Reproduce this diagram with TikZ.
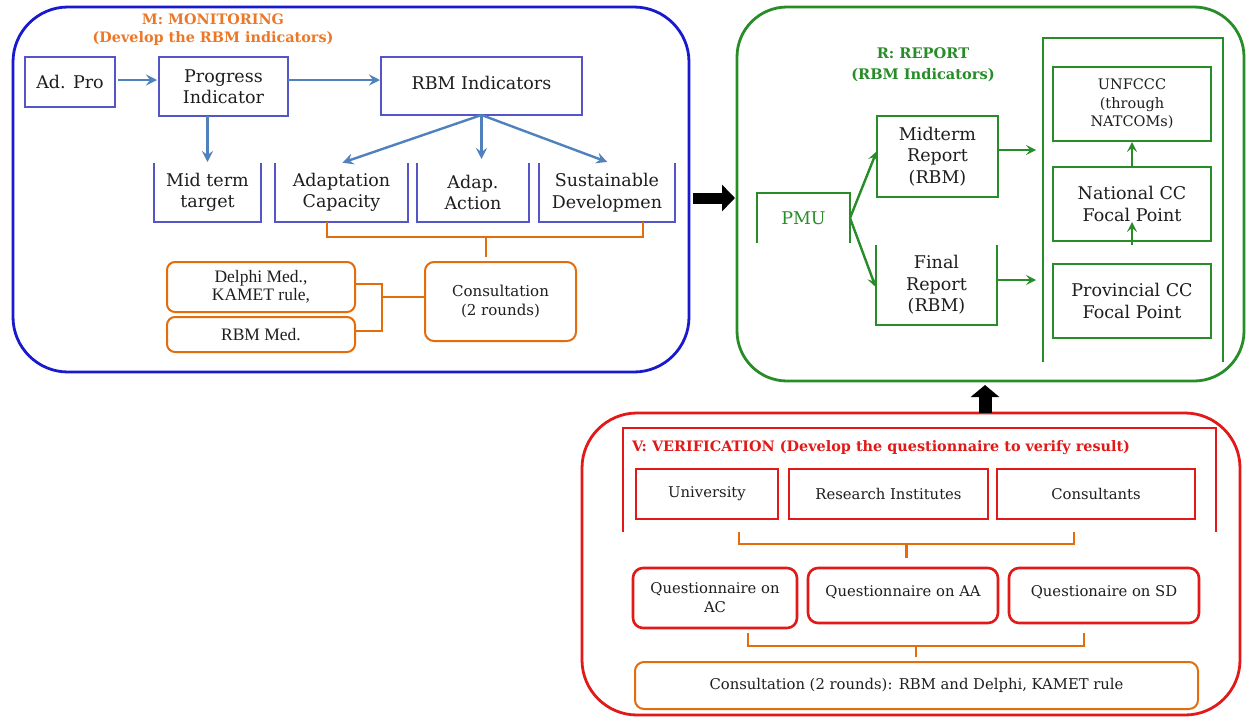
\documentclass[tikz,border=0pt]{standalone}
\usepackage{fontspec}
\setmainfont{DejaVu Serif}
\newfontfamily\timesfont{Liberation Serif}
\usetikzlibrary{arrows.meta}
\definecolor{frameblue}{RGB}{25,25,205}
\definecolor{boxblue}{RGB}{85,85,200}
\definecolor{arrowblue}{RGB}{79,129,189}
\definecolor{orng}{RGB}{228,108,10}
\definecolor{ttlorange}{RGB}{235,120,40}
\definecolor{grn}{RGB}{40,140,40}
\definecolor{frred}{RGB}{225,25,25}
\definecolor{txt}{RGB}{30,30,30}
\begin{document}
\begin{tikzpicture}[x=1pt,y=-1pt,
  every node/.style={inner sep=0pt, outer sep=0pt, text=txt},
  mainfont/.style={font=\fontsize{17.5}{21.5}\selectfont},
  redfont/.style={font=\fontsize{14.8}{19}\selectfont},
  bluebox/.style={draw=boxblue, line width=1.6pt, align=center, mainfont},
  plainbox/.style={align=center, mainfont},
  boxline/.style={draw=boxblue, line width=1.6pt},
  greenline/.style={draw=grn, line width=1.6pt},
  greenbox/.style={draw=grn, line width=1.6pt, align=center, mainfont},
  redline/.style={draw=frred, line width=1.5pt},
  redbox/.style={draw=frred, line width=1.5pt, align=center, redfont},
  qbox/.style={draw=frred, line width=2.6pt, rounded corners=10pt, align=center, redfont},
  orngbox/.style={draw=orng, line width=2pt, rounded corners=9pt, align=center},
  orngline/.style={draw=orng, line width=2.2pt},
  bluearrow/.style={draw=arrowblue, line width=2.4pt, -{Stealth[length=11pt,width=11pt,inset=4pt]}},
  greenarrow/.style={draw=grn, line width=2.4pt, -{Stealth[length=10pt,width=10pt,inset=4pt]}},
  blackarrow/.style={draw=black, line width=11pt, -{Triangle[length=13pt,width=26pt]}},
  frame/.style={line width=2.8pt, rounded corners=55pt},
  ttl/.style={font=\bfseries\fontsize{14.4}{18}\selectfont, align=center}
]
\useasboundingbox (0,0) rectangle (1246,718);
\fill[white] (0,0) rectangle (1246,718);

% ---------------- Monitoring ----------------
\node[frame, draw=frameblue, minimum width=676pt, minimum height=365pt] (mon) at (351,189.5) {};
\node[ttl, text=ttlorange] (mtitle) at (213,30) {M: MONITORING\\(Develop the RBM indicators)};

\node[bluebox, minimum width=90pt, minimum height=50pt] (adpro) at (70,82) {Ad. Pro};
\node[bluebox, minimum width=129pt, minimum height=59pt] (prog) at (223.5,86.5) {Progress\\Indicator};
\node[bluebox, minimum width=201pt, minimum height=58pt] (rbm) at (481.5,86) {\raisebox{6pt}{RBM Indicators}};

\node[plainbox, minimum width=107pt, minimum height=59pt] (mid) at (207.5,192.5) {Mid term\\target};
\node[plainbox, minimum width=133pt, minimum height=59pt] (adc) at (341.5,192.5) {Adaptation\\Capacity};
\node[plainbox, minimum width=112pt, minimum height=59pt] (ada) at (473,192.5) {Adap.\\Action};
\node[plainbox, minimum width=136pt, minimum height=59pt] (sus) at (607,192.5) {Sustainable\\Developmen};
\foreach \n in {mid,adc,ada,sus}
  \draw[boxline] (\n.north west) -- (\n.south west) -- (\n.south east) -- (\n.north east);

\draw[bluearrow, shorten <=3pt, shorten >=2pt] ([yshift=2pt]adpro.east) -- ([yshift=2pt]adpro.east -| prog.west);
\draw[bluearrow, shorten >=1pt] ([yshift=6.5pt]prog.east) -- ([yshift=6.5pt]prog.east -| rbm.west);
\draw[bluearrow, shorten >=1pt] (prog.south -| mid.north) -- (mid.north);
\draw[bluearrow, shorten >=1pt] (rbm.south) -- (adc.north);
\draw[bluearrow, shorten >=4pt] (rbm.south) -- (rbm.south |- ada.north);
\draw[bluearrow, shorten >=3pt] (rbm.south) -- ([xshift=3pt]sus.north);

\node[orngbox, minimum width=151pt, minimum height=79pt, font=\fontsize{15}{19}\selectfont] (cons) at (500.5,301.5) {Consultation\\(2 rounds)};
\node[orngbox, rounded corners=8pt, minimum width=188pt, minimum height=50pt, font=\timesfont\fontsize{17.5}{18.5}\selectfont] (delphi) at (261,287) {Delphi Med.,\\KAMET rule,};
\node[orngbox, rounded corners=8pt, minimum width=188pt, minimum height=35pt, font=\timesfont\fontsize{17.5}{18.5}\selectfont] (rbmmed) at (261,334.5) {RBM Med.};

\coordinate (brL) at (327,222); \coordinate (brR) at (643,222);
\coordinate (brM) at (486,237);
\draw[orngline] (brL) |- (brM) -| (brR);
\draw[orngline, shorten >=5pt] (brM) -- (brM |- cons.north);

\coordinate (bkT) at (382,284); \coordinate (bkB) at (382,331); \coordinate (bkM) at (382,297);
\draw[orngline] (delphi.east |- bkT) -- (bkT) -- (bkB) -- (rbmmed.east |- bkB);
\draw[orngline] (bkM) -- (cons.west |- bkM);

% ---------------- Report ----------------
\node[frame, rounded corners=50pt, draw=grn, minimum width=507pt, minimum height=374pt] (rep) at (990.5,194) {};
\node[ttl, text=grn, font=\bfseries\fontsize{14.6}{21}\selectfont] (rtitle) at (923,64.5) {R: REPORT\\(RBM Indicators)};

\node[plainbox, text=grn, minimum width=93pt, minimum height=50pt] (pmu) at (803.5,218) {PMU};
\draw[greenline] (pmu.south west) -- (pmu.north west) -- (pmu.north east) -- (pmu.south east);
\node[greenbox, minimum width=121pt, minimum height=81pt] (midr) at (937.5,156.5) {Midterm\\Report\\(RBM)};
\node[plainbox, minimum width=121pt, minimum height=80pt] (finr) at (936.5,285) {Final\\Report\\(RBM)};
\draw[greenline] (finr.north west) -- (finr.south west) -- (finr.south east) -- (finr.north east);

\node[minimum width=180pt, minimum height=324pt] (cont) at (1133,200) {};
\draw[greenline] (cont.south west) -- (cont.north west) -- (cont.north east) -- (cont.south east);
\node[greenbox, minimum width=158pt, minimum height=74pt, font=\fontsize{14.5}{18.5}\selectfont] (unf) at (1132,104) {UNFCCC\\(through\\NATCOMs)};
\node[greenbox, minimum width=158pt, minimum height=74pt] (nat) at (1132,204) {National CC\\Focal Point};
\node[greenbox, minimum width=158pt, minimum height=74pt] (prov) at (1132,301) {Provincial CC\\Focal Point};

\draw[greenarrow, shorten >=1pt] (pmu.east) -- ([yshift=6pt]midr.west);
\draw[greenarrow, shorten >=1pt] (pmu.east) -- ([yshift=-3pt]finr.west);
\draw[greenarrow, shorten >=7pt] ([yshift=6.5pt]midr.east) -- ([yshift=6.5pt]midr.east -| cont.west);
\draw[greenarrow, shorten >=7pt] ([yshift=5pt]finr.east) -- ([yshift=5pt]finr.east -| cont.west);
\draw[greenarrow, shorten >=1pt] (nat.north) -- (unf.south);
\draw[greenarrow, shorten <=19pt, shorten >=-19pt] (prov.north) -- (nat.south);

% ---------------- Verification ----------------
\node[frame, draw=frred, minimum width=658pt, minimum height=302pt] (ver) at (911,564) {};
\node[minimum width=593pt, minimum height=104pt] (vin) at (919.5,480) {};
\draw[redline] (vin.south west) -- (vin.north west) -- (vin.north east) -- (vin.south east);
\node[anchor=west, text=frred, font=\bfseries\fontsize{14.4}{16}\selectfont] (vtitle) at (632,448) {V: VERIFICATION (Develop the questionnaire to verify result)};

\node[redbox, minimum width=142pt, minimum height=50pt] (uni) at (707,494) {University};
\node[redbox, minimum width=199pt, minimum height=50pt] (res) at (888.5,494) {Research Institutes};
\node[redbox, minimum width=198pt, minimum height=50pt] (cst) at (1096,494) {Consultants};

\node[qbox, minimum width=164pt, minimum height=60pt] (qac) at (715,598) {Questionnaire on\\AC};
\node[qbox, minimum width=190pt, minimum height=55pt] (qaa) at (903,595.5) {\raisebox{10pt}{Questionnaire on AA}};
\node[qbox, minimum width=190pt, minimum height=55pt] (qsd) at (1104,595.5) {\raisebox{10pt}{Questionaire on SD}};

\node[orngbox, minimum width=563pt, minimum height=47pt, redfont] (cfin) at (916.5,685.5) {\raisebox{-1.5pt}{Consultation (2 rounds): RBM and Delphi, KAMET rule}};

\coordinate (vbL) at (739,532); \coordinate (vbR) at (1074,532); \coordinate (vbM) at (906.5,544);
\draw[orngline] (vbL) |- (vbM) -| (vbR);
\draw[orngline] (vbM) -- ([yshift=10pt]vbM |- qac.north);

\coordinate (qbL) at (748,633); \coordinate (qbR) at (1084,633); \coordinate (qbM) at (916,646);
\draw[orngline] (qbL) |- (qbM) -| (qbR);
\draw[orngline] (qbM) -- ([yshift=5pt]qbM |- cfin.north);

% ---------------- Black arrows ----------------
\coordinate (ay) at (0,198);
\draw[blackarrow, shorten <=4pt, shorten >=2pt] (mon.east |- ay) -- (rep.west |- ay);
\coordinate (ax) at (985,0);
\draw[blackarrow, line width=13pt, -{Triangle[length=12pt,width=28pt]}, shorten >=4pt] (ver.north -| ax) -- (rep.south -| ax);
\end{tikzpicture}
\end{document}
